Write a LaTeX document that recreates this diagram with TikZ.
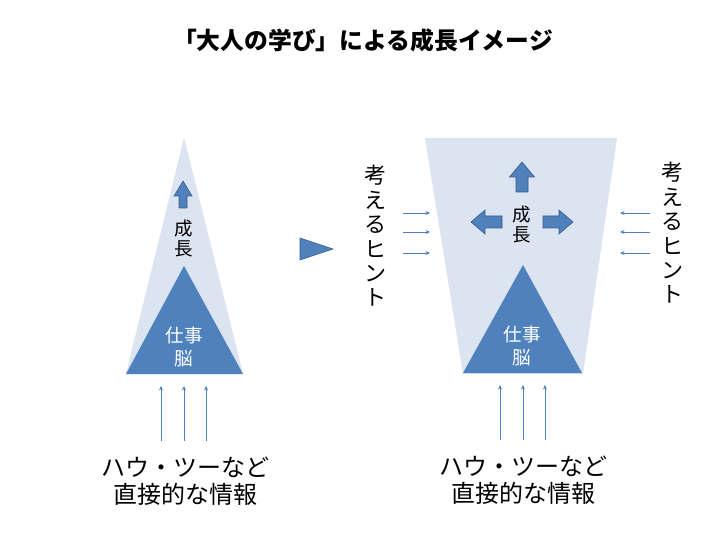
\documentclass[tikz,border=0pt]{standalone}
\usepackage{fontspec}
\newfontfamily\cjk{Noto Sans CJK JP}
\usetikzlibrary{arrows.meta}
\definecolor{lightfill}{RGB}{219,228,240}
\definecolor{darkblue}{RGB}{79,129,189}
\definecolor{edgeblue}{RGB}{56,93,138}
\definecolor{thinblue}{RGB}{79,129,189}
\tikzset{
  lightshape/.style={fill=lightfill, draw=none},
  darktri/.style={fill=darkblue, draw=none},
  blockarrow/.style={fill=darkblue, draw=edgeblue, line width=0.6pt, line join=miter},
  thinarrow/.style={draw=thinblue, line width=0.9pt, -{Stealth[length=4.5pt,width=4pt]}},
  vtext/.style={font=\cjk\fontsize{22}{24.4}\selectfont, align=center, inner sep=0pt},
  growtext/.style={font=\cjk\fontsize{18.5}{20}\selectfont, align=center, inner sep=0pt},
  braintext/.style={font=\cjk\fontsize{18.5}{22.5}\selectfont, align=center, inner sep=0pt, text=white},
  bottomtext/.style={font=\cjk\fontsize{24}{27}\selectfont, align=center, inner sep=0pt},
  titletext/.style={font=\cjk\bfseries\fontsize{23.8}{25}\selectfont, inner sep=0pt}
}
\begin{document}
\begin{tikzpicture}[x=1pt,y=-1pt]
\useasboundingbox (0,0) rectangle (720,540);
\fill[white] (0,0) rectangle (720,540);

% title
\node[titletext] (title) at (363,40) {「大人の学び」による成長イメージ};

% ---------- left figure ----------
\coordinate (lapex) at (184,138);
\coordinate (lbl) at (126,374);
\coordinate (lbr) at (243,374);
\fill[lightshape] (lapex) -- (lbr) -- (lbl) -- cycle;
\fill[darktri] (184,266) -- (lbr) -- (lbl) -- cycle;
\draw[blockarrow] (183,181) -- (192,196) -- (187,196) -- (187,208) -- (179,208) -- (179,196) -- (174,196) -- cycle;
\node[growtext] (lgrow) at (184,239) {成\\長};
\node[braintext] (lbrain) at (184,347) {仕事\\脳};

\foreach \x/\n in {161/1,184/2,206/3}{
  \coordinate (lb\n) at (\x,441);
  \coordinate (lt\n) at (\x,386);
  \draw[thinarrow] (lb\n) -- (lt\n);
}
\node[bottomtext] (linfo) at (185,481) {ハウ・ツーなど\\直接的な情報};

% ---------- middle arrow ----------
\draw[blockarrow] (300,238) -- (333,249) -- (300,260) -- cycle;

% ---------- right figure ----------
\fill[lightshape] (425,138) -- (617,138) -- (583,374) -- (463,374) -- cycle;
\fill[darktri] (523,265) -- (582,373) -- (463,373) -- cycle;
% up arrow
\draw[blockarrow] (522,162) -- (534.5,177) -- (528,177) -- (528,192) -- (516,192) -- (516,177) -- (509.5,177) -- cycle;
% left arrow
\draw[blockarrow] (471,222) -- (485,210) -- (485,216) -- (502,216) -- (502,228) -- (485,228) -- (485,234) -- cycle;
% right arrow
\draw[blockarrow] (573,222) -- (559,210) -- (559,216) -- (543,216) -- (543,228) -- (559,228) -- (559,234) -- cycle;
\node[growtext] (rgrow) at (522,225) {成\\長};
\node[braintext] (rbrain) at (522,346) {仕事\\脳};

\foreach \x/\n in {500/1,523/2,545/3}{
  \coordinate (rb\n) at (\x,440);
  \coordinate (rt\n) at (\x,385);
  \draw[thinarrow] (rb\n) -- (rt\n);
}
\node[bottomtext] (rinfo) at (523,480) {ハウ・ツーなど\\直接的な情報};

% hint texts and arrows
\node[vtext] (lhint) at (375,236) {考\\え\\る\\ヒ\\ン\\ト};
\node[vtext] (rhint) at (672,233) {考\\え\\る\\ヒ\\ン\\ト};
\foreach \y/\n in {213/1,232/2,253/3}{
  \coordinate (lhs\n) at (403,\y);
  \coordinate (lhe\n) at (430,\y);
  \draw[thinarrow] (lhs\n) -- (lhe\n);
  \coordinate (rhs\n) at (650,\y);
  \coordinate (rhe\n) at (620,\y);
  \draw[thinarrow] (rhs\n) -- (rhe\n);
}
\end{tikzpicture}
\end{document}
